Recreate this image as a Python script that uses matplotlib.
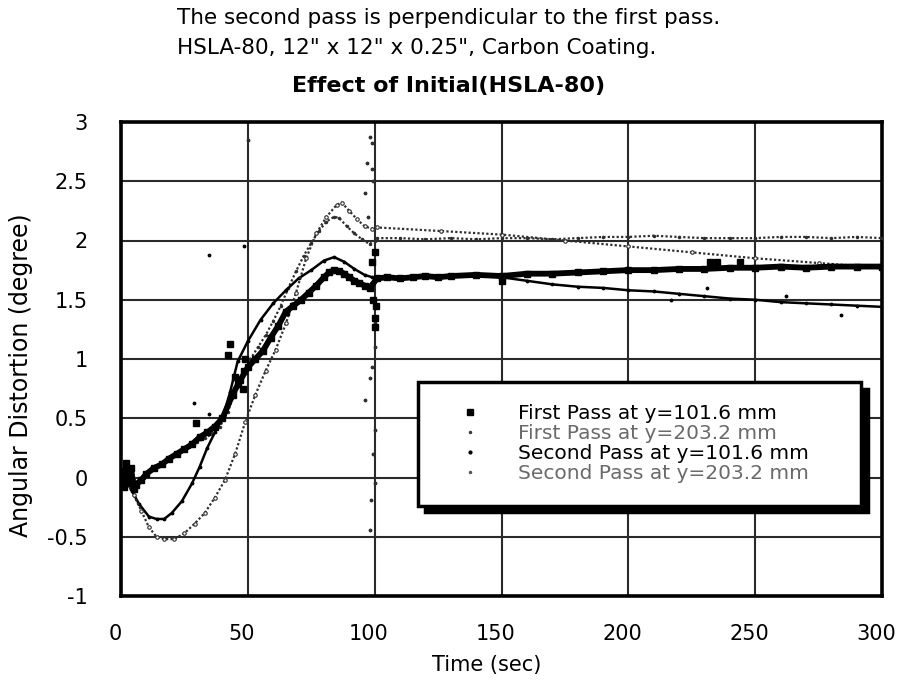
import matplotlib
matplotlib.use("Agg")
import matplotlib.pyplot as plt
import matplotlib.transforms as mtransforms
from matplotlib.lines import Line2D

plt.rcParams["font.family"] = ["DejaVu Sans"]

"""Series read off the chart: time (sec) and angular distortion (degree)"""
# First Pass at y=101.6 mm (black squares)
t_fp1 = [0, 1, 2, 3, 4, 5, 6, 8, 10, 13, 16, 19, 22, 25, 28, 31, 34, 37, 40,
         44, 47, 50, 53, 56, 59, 62, 65, 68, 71, 74, 77, 80, 82, 84, 86, 88,
         90, 92, 94, 96, 98, 101, 105, 110, 115, 120, 125, 130, 140, 150, 160,
         170, 180, 190, 200, 210, 220, 230, 240, 250, 260, 270, 280, 290, 300]
v_fp1 = [0.05, -0.08, 0.12, -0.05, 0.08, -0.1, -0.06, -0.02, 0.03, 0.08, 0.11,
         0.16, 0.2, 0.24, 0.28, 0.34, 0.38, 0.43, 0.5, 0.7, 0.82, 0.93, 1.0,
         1.07, 1.18, 1.28, 1.4, 1.45, 1.5, 1.56, 1.62, 1.69, 1.73, 1.75, 1.74,
         1.72, 1.69, 1.66, 1.64, 1.62, 1.6, 1.68, 1.69, 1.68, 1.69, 1.7, 1.69,
         1.7, 1.71, 1.7, 1.72, 1.72, 1.73, 1.74, 1.75, 1.75, 1.76, 1.76, 1.77,
         1.77, 1.78, 1.77, 1.78, 1.78, 1.78]
t_fp1_stray = [29.5, 42, 43, 45, 46, 48, 48.5, 49, 99, 99.5, 100, 100, 100,
               100.5, 150, 232, 235, 244]
v_fp1_stray = [0.46, 1.03, 1.13, 0.85, 0.79, 0.75, 0.9, 1.0, 1.82, 1.5, 1.9,
               1.35, 1.27, 1.45, 1.66, 1.82, 1.82, 1.82]

# First Pass at y=203.2 mm (light dots)
t_fp2 = [0, 2, 4, 6, 9, 12, 15, 18, 21, 24, 27, 30, 33, 36, 39, 42, 45, 48,
         51, 54, 57, 60, 63, 66, 69, 72, 75, 78, 81, 84, 86, 89, 92, 95, 98,
         100, 101, 110, 120, 130, 140, 150, 160, 170, 180, 190, 200, 210, 220,
         230, 240, 250, 260, 270, 280, 290, 300]
v_fp2 = [0.02, -0.05, 0.03, -0.04, 0.0, 0.06, 0.1, 0.14, 0.18, 0.22, 0.26,
         0.3, 0.33, 0.37, 0.43, 0.55, 0.72, 0.88, 1.0, 1.1, 1.2, 1.32, 1.45,
         1.6, 1.74, 1.87, 1.98, 2.08, 2.16, 2.2, 2.19, 2.12, 2.06, 2.01, 1.97,
         2.0, 2.02, 2.02, 2.01, 2.02, 2.01, 2.02, 2.02, 2.01, 2.02, 2.03, 2.03,
         2.04, 2.03, 2.02, 2.02, 2.02, 2.03, 2.03, 2.02, 2.03, 2.02]
t_fp2_stray = [50, 98, 99, 97, 99, 96, 97.5, 99, 98, 96, 99.5, 98.5, 98]
v_fp2_stray = [2.85, 2.87, 2.82, 2.65, 2.6, 2.4, 2.2, 0.93, 0.84, 0.65, 0.2,
               -0.19, -0.44]

# Second Pass at y=101.6 mm (dark dots)
t_sp1 = [0, 2, 4, 7, 11, 14, 17, 20, 24, 28, 31, 34, 37, 40, 43, 46, 50, 55,
         60, 65, 70, 75, 80, 84, 88, 92, 96, 99, 101, 110, 120, 130, 140, 150,
         160, 170, 180, 190, 200, 210, 220, 230, 240, 250, 260, 270, 280, 290,
         300]
v_sp1 = [0.0, -0.03, -0.1, -0.22, -0.33, -0.35, -0.35, -0.3, -0.2, -0.05, 0.09,
         0.25, 0.38, 0.5, 0.72, 0.98, 1.15, 1.33, 1.47, 1.58, 1.68, 1.75, 1.83,
         1.86, 1.82, 1.76, 1.71, 1.69, 1.68, 1.69, 1.69, 1.7, 1.7, 1.69, 1.66,
         1.63, 1.61, 1.6, 1.58, 1.57, 1.55, 1.53, 1.51, 1.5, 1.48, 1.47, 1.46,
         1.45, 1.44]
t_sp1_stray = [34.6, 48.5, 28.7, 34.6, 217, 231, 262, 284]
v_sp1_stray = [1.88, 1.95, 0.63, 0.54, 1.5, 1.6, 1.53, 1.37]

# Second Pass at y=203.2 mm (light open dots)
t_sp2 = [0, 3, 5, 8, 11, 14, 17, 21, 25, 29, 33, 37, 41, 45, 49, 53, 57, 61,
         65, 69, 73, 77, 81, 85, 87, 90, 93, 96, 99, 101, 126, 150, 175, 200,
         225, 250, 275, 300]
v_sp2 = [0.0, -0.05, -0.15, -0.28, -0.42, -0.5, -0.52, -0.52, -0.47, -0.39,
         -0.3, -0.17, -0.02, 0.2, 0.47, 0.7, 0.9, 1.08, 1.3, 1.56, 1.85, 2.06,
         2.2, 2.3, 2.32, 2.25, 2.18, 2.12, 2.1, 2.11, 2.08, 2.05, 2.0, 1.95,
         1.9, 1.85, 1.81, 1.77]
t_sp2_stray = [99.5, 100, 100, 100, 100]
v_sp2_stray = [2.5, 1.3, 1.1, 0.4, -0.05]

labels = ["First Pass at y=101.6 mm", "First Pass at y=203.2 mm",
          "Second Pass at y=101.6 mm", "Second Pass at y=203.2 mm"]

fig = plt.figure(figsize=(8.97, 6.83), dpi=100)
ax = fig.add_axes([121 / 897, 1 - 596 / 683, 761 / 897, 474 / 683])

"""Draw the four traces"""
ax.plot(t_fp1, v_fp1, color="black", lw=4.2, marker="s", ms=4, zorder=5)
ax.plot(t_fp1_stray, v_fp1_stray, ls="none", color="black", marker="s", ms=4.5, zorder=5)
ax.plot(t_fp2, v_fp2, color="#2e2e2e", lw=1.6, ls=(0, (1, 1)), marker=".", ms=3, zorder=4)
ax.plot(t_fp2_stray, v_fp2_stray, ls="none", color="#2e2e2e", marker=".", ms=3.5, zorder=4)
ax.plot(t_sp1, v_sp1, color="black", lw=1.8, marker=".", ms=3.5, zorder=4)
ax.plot(t_sp1_stray, v_sp1_stray, ls="none", color="black", marker=".", ms=3.5, zorder=4)
ax.plot(t_sp2, v_sp2, color="#2e2e2e", lw=1.6, ls=(0, (1, 1)), marker="o", ms=2.5,
        mfc="white", mew=0.8, zorder=4)
ax.plot(t_sp2_stray, v_sp2_stray, ls="none", color="#2e2e2e", marker=".", ms=3.5, zorder=4)

ax.set_xlim(0, 300)
ax.set_ylim(-1, 3)
ax.set_xticks([0, 50, 100, 150, 200, 250, 300])
ax.set_yticks([-1, -0.5, 0, 0.5, 1, 1.5, 2, 2.5, 3])
ax.set_yticklabels(["-1", "-0.5", "0", "0.5", "1", "1.5", "2", "2.5", "3"])
ax.tick_params(axis="both", length=0, labelsize=15)
ax.tick_params(axis="x", pad=20)
ax.tick_params(axis="y", pad=24)
shift = mtransforms.ScaledTranslation(-6 / 100, 0, fig.dpi_scale_trans)
for lab in ax.get_xticklabels():
    lab.set_transform(lab.get_transform() + shift)
ax.grid(True, color="#2a2a2a", lw=1.5)
ax.set_axisbelow(True)
for s in ax.spines.values():
    s.set_linewidth(2.6)
    s.set_color("black")

ax.set_xlabel("Time (sec)", fontsize=15)
ax.set_ylabel("Angular Distortion (degree)", fontsize=17)
ax.xaxis.set_label_coords(0.481, -0.124)
ax.yaxis.set_label_coords(-0.116, 0.466)

"""Legend with drop shadow"""
handles = [
    Line2D([], [], ls="none", marker="s", ms=4.5, color="black"),
    Line2D([], [], ls="none", marker=".", ms=3, color="#3a3a3a"),
    Line2D([], [], ls="none", marker=".", ms=4, color="black"),
    Line2D([], [], ls="none", marker=".", ms=3, color="#555555"),
]
leg = ax.legend(handles, labels, loc="center", bbox_to_anchor=(0.39, 0.19, 0.583, 0.262),
                mode="expand", borderaxespad=0, fontsize=14.5, frameon=True,
                fancybox=False, framealpha=1, edgecolor="black", handlelength=3.0,
                handletextpad=0.9, labelspacing=0.05, borderpad=1.1,
                shadow={"ox": 5, "oy": -5, "facecolor": "black",
                        "edgecolor": "black", "alpha": 1})
leg.get_frame().set_linewidth(2.5)
leg.set_zorder(10)
for i, txt in enumerate(leg.get_texts()):
    if i % 2 == 1:
        txt.set_color("#6a6a6a")

"""Header text"""
fig.text(177 / 897, 1 - 18 / 683, "The second pass is perpendicular to the first pass.",
         fontsize=15.5, ha="left", va="center")
fig.text(177 / 897, 1 - 48 / 683, "HSLA-80, 12\" x 12\" x 0.25\", Carbon Coating.",
         fontsize=15.5, ha="left", va="center")
fig.text(449 / 897, 1 - 86 / 683, "Effect of Initial(HSLA-80)", fontsize=16,
         fontweight="bold", ha="center", va="center")

fig.savefig("out.png", dpi=100)
